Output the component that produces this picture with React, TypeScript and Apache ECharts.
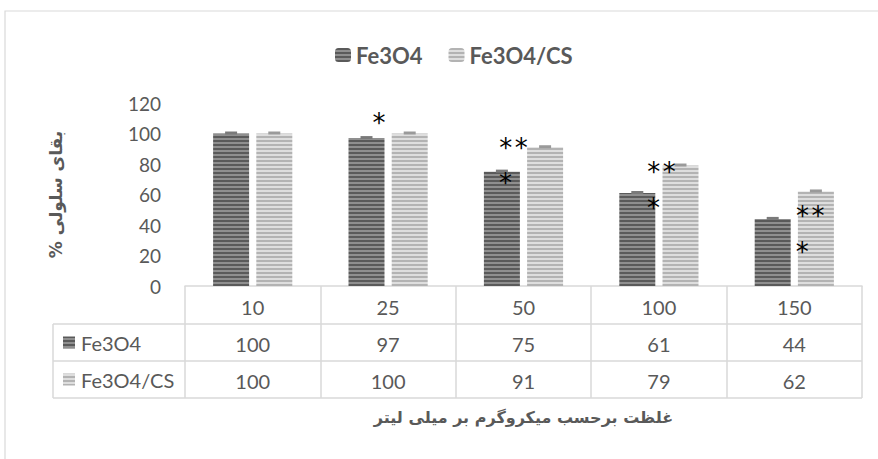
import React, { useEffect, useRef } from 'react';
import * as echarts from 'echarts';

const categories = ['10', '25', '50', '100', '150'];
const seriesNames = ['Fe3O4', 'Fe3O4/CS'];
const fe3o4 = [100, 97, 75, 61, 44];
const fe3o4cs = [100, 100, 91, 79, 62];
const yMin = 0;
const yMax = 120;
const yInterval = 20;
const yAxisTitle = '% بقای سلولی';
const xAxisTitle = 'غلظت برحسب میکروگرم بر میلی لیتر';
// significance marks: category index, y value, text
const markCats = [1, 2, 2, 3, 3, 4, 4];
const markValues = [107, 90.5, 67.5, 75, 51, 46, 22.5];
const markTexts = ['*', '**', '*', '**', '*', '**', '*'];

// layout
const W = 878;
const H = 459;
const G_LEFT = 185;
const G_RIGHT = 16;
const G_TOP = 103;
const G_BOTTOM = 173;
const BAR_W = 36;
const BAR_GAP = 0.2;
const ROW_H = 37;
const TABLE_LEFT = 53;
const markDx = [-9, -10, -18, 2.5, -5.5, 16, 8];
const STAR_STEP = 15.5;

const FONT = 'Lato, "Open Sans", sans-serif';
const AR_FONT = '"DejaVu Sans", sans-serif';
const GREY = '#595959';
const LINE = '#d9d9d9';

function stripes(c1: string, c2: string, a: number, b: number) {
  const cv = document.createElement('canvas');
  cv.width = 4;
  cv.height = a + b;
  const ctx = cv.getContext('2d')!;
  ctx.fillStyle = c1;
  ctx.fillRect(0, 0, 4, a);
  ctx.fillStyle = c2;
  ctx.fillRect(0, a, 4, b);
  return cv;
}

export default function App() {
  const ref = useRef<HTMLDivElement>(null);
  useEffect(() => {
    if (!ref.current) return;
    const chart = echarts.init(ref.current, undefined, { renderer: 'svg', width: W, height: H });
    const darkPat: any = { image: stripes('#5a5a5a', '#8f8f8f', 2, 2), repeat: 'repeat' };
    const lightPat: any = { image: stripes('#b3b3b3', '#dedede', 2, 2), repeat: 'repeat' };
    const pats = [darkPat, lightPat];
    const capColors = ['#7a7a7a', '#9a9a9a'];
    const valuesArr = [fe3o4, fe3o4cs];

    const axisY = H - G_BOTTOM;
    const plotRight = W - G_RIGHT;

    const capData: number[][] = [];
    valuesArr.forEach((arr, s) => arr.forEach((v, i) => capData.push([i, v, s])));
    const markData = markCats.map((c, k) => [c, markValues[k], k]);

    const off = (BAR_W + BAR_W * BAR_GAP) / 2;

    const graphic: any[] = [
      { type: 'rect', shape: { x: 5, y: 11, width: W, height: H }, style: { fill: 'none', stroke: LINE, lineWidth: 1.2 }, silent: true },
    ];
    [1, 2, 3].forEach((r) => {
      graphic.push({ type: 'line', shape: { x1: TABLE_LEFT, y1: axisY + r * ROW_H + 1, x2: plotRight, y2: axisY + r * ROW_H + 1 }, style: { stroke: LINE, lineWidth: 1.5 } });
    });
    graphic.push({ type: 'line', shape: { x1: TABLE_LEFT, y1: axisY + ROW_H + 1, x2: TABLE_LEFT, y2: axisY + 3 * ROW_H + 1 }, style: { stroke: LINE, lineWidth: 1.5 } });
    seriesNames.forEach((n, s) => {
      const cy = axisY + (s + 1.5) * ROW_H + 1;
      graphic.push({ type: 'rect', shape: { x: 63, y: cy - 6, width: 12, height: 12 }, style: { fill: pats[s] } });
      graphic.push({ type: 'text', x: 81, y: cy, style: { text: n, fill: GREY, font: `20px ${FONT}`, verticalAlign: 'middle', align: 'left' } });
    });

    chart.setOption({
      animation: false,
      grid: { left: G_LEFT, right: G_RIGHT, top: G_TOP, bottom: G_BOTTOM },
      legend: {
        data: seriesNames,
        left: 330,
        top: 39,
        itemWidth: 16,
        itemHeight: 14,
        itemGap: 26,
        textStyle: { color: GREY, fontWeight: 'bold', fontSize: 22, fontFamily: FONT },
      },
      xAxis: {
        type: 'category',
        data: categories,
        axisLine: { lineStyle: { color: LINE, width: 1.5 } },
        axisTick: { show: true, length: 3 * ROW_H + 1, lineStyle: { color: LINE, width: 1.5 } },
        axisLabel: {
          interval: 0,
          margin: 2,
          color: GREY,
          fontSize: 20,
          fontFamily: FONT,
          lineHeight: ROW_H,
          formatter: (v: string, i: number) => `${v}\n${fe3o4[i]}\n${fe3o4cs[i]}`,
        },
        name: xAxisTitle,
        nameLocation: 'middle',
        nameGap: 123,
        nameTextStyle: { color: GREY, fontWeight: 'bold', fontSize: 16, fontFamily: AR_FONT },
      },
      yAxis: {
        type: 'value',
        min: yMin,
        max: yMax,
        interval: yInterval,
        splitLine: { show: false },
        axisLine: { show: false },
        axisLabel: { color: GREY, fontSize: 19, fontFamily: FONT, margin: 24 },
        name: yAxisTitle,
        nameLocation: 'middle',
        nameRotate: 90,
        nameGap: 121,
        nameTextStyle: { color: GREY, fontWeight: 'bold', fontSize: 17, fontFamily: AR_FONT },
      },
      series: [
        { type: 'bar', name: seriesNames[0], data: fe3o4, barWidth: BAR_W, barGap: `${BAR_GAP * 100}%`, itemStyle: { color: darkPat } },
        { type: 'bar', name: seriesNames[1], data: fe3o4cs, barWidth: BAR_W, barGap: `${BAR_GAP * 100}%`, itemStyle: { color: lightPat } },
        {
          type: 'custom',
          name: 'caps',
          data: capData,
          encode: { x: 0, y: 1 },
          z: 5,
          renderItem: (params: any, api: any) => {
            const i = api.value(0);
            const v = api.value(1);
            const s = api.value(2);
            const p = api.coord([i, v]);
            const x = p[0] + (s === 0 ? -off : off);
            return { type: 'rect', shape: { x: x - 6, y: p[1] - 2, width: 12, height: 3 }, style: { fill: capColors[s] } };
          },
        },
        {
          type: 'custom',
          name: 'marks',
          data: markData,
          encode: { x: 0, y: 1 },
          z: 6,
          clip: false,
          renderItem: (params: any, api: any) => {
            const c = api.value(0);
            const v = api.value(1);
            const k = api.value(2);
            const p = api.coord([c, v]);
            const chars = markTexts[k].split('');
            const n = chars.length;
            return {
              type: 'group',
              children: chars.map((ch, j) => ({
                type: 'text',
                x: p[0] + markDx[k] + (j - (n - 1) / 2) * STAR_STEP,
                y: p[1],
                style: { text: ch, fill: '#000', font: '26px "DejaVu Sans", sans-serif', align: 'center', verticalAlign: 'middle' },
              })),
            };
          },
        },
      ],
      graphic,
    });
    return () => chart.dispose();
  }, []);
  return <div ref={ref} style={{ position: 'fixed', left: 0, top: 0, width: W, height: H, background: '#fff' }} />;
}
